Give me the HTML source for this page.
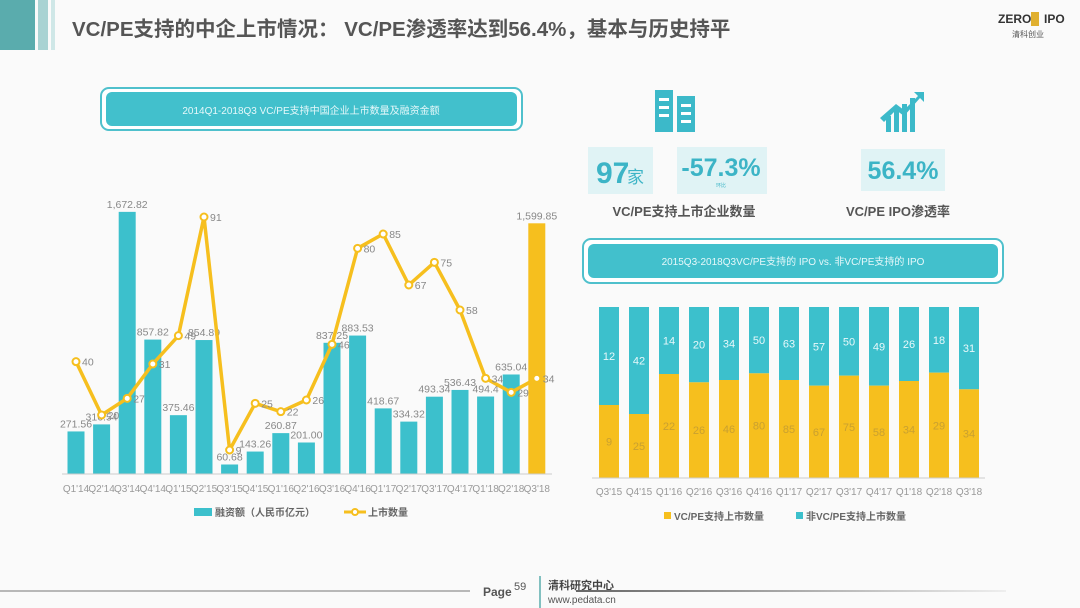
<!DOCTYPE html>
<html><head><meta charset="utf-8"><style>
body{margin:0;width:1080px;height:608px;background:#fafafa;overflow:hidden;font-family:"Liberation Sans","Noto Sans CJK SC",sans-serif;}
svg{position:absolute;left:0;top:0}
</style></head><body>
<svg id="s" width="1080" height="608" xmlns="http://www.w3.org/2000/svg" font-family="Liberation Sans, Noto Sans CJK SC, sans-serif">
<rect x="0" y="0" width="35" height="50" fill="#5aacad"/>
<rect x="38" y="0" width="10" height="50" fill="#a9d3d3"/>
<rect x="51" y="0" width="4" height="50" fill="#cfe7e7"/>
<text x="72" y="36" font-size="20.5" font-weight="bold" fill="#555">VC/PE支持的中企上市情况： VC/PE渗透率达到56.4%，基本与历史持平</text>
<text x="998" y="23" font-size="12" font-weight="bold" fill="#333">ZERO</text>
<rect x="1031" y="12" width="8" height="14" fill="#e0b030"/>
<text x="1044" y="23" font-size="12" font-weight="bold" fill="#333">IPO</text>
<text x="1012" y="37" font-size="8" fill="#555">清科创业</text>
<rect x="101" y="88" width="421" height="42" rx="8" fill="#fff" stroke="#4fc0cc" stroke-width="2"/>
<rect x="106" y="92" width="411" height="34" rx="6" fill="#42c0cc"/>
<text x="311" y="114" font-size="10" fill="#e6f8fa" text-anchor="middle">2014Q1-2018Q3 VC/PE支持中国企业上市数量及融资金额</text>
<g fill="#3cb9c9">
<rect x="655" y="90" width="18" height="42"/><rect x="677" y="96" width="18" height="36"/>
</g>
<g fill="#fff"><rect x="659" y="98" width="10" height="3"/><rect x="659" y="106" width="10" height="3"/><rect x="659" y="114" width="10" height="3"/><rect x="681" y="104" width="10" height="3"/><rect x="681" y="112" width="10" height="3"/><rect x="681" y="120" width="10" height="3"/></g>
<g fill="#3cb9c9"><rect x="886" y="116" width="5" height="16"/><rect x="894" y="110" width="5" height="22"/><rect x="902" y="104" width="5" height="28"/><rect x="910" y="98" width="5" height="34"/>
<polygon points="880,118 896,104 904,110 918,96 914,92 924,92 924,102 920,98 904,116 896,110 884,122"/></g>
<rect x="588" y="147" width="65" height="47" fill="#e0f3f5"/>
<text x="596" y="183" font-size="30" font-weight="bold" fill="#3cb4c6">97</text>
<text x="627" y="183" font-size="17" fill="#3cb4c6">家</text>
<rect x="677" y="147" width="90" height="47" fill="#e0f3f5"/>
<text x="721" y="176" font-size="25" font-weight="bold" fill="#3cb4c6" text-anchor="middle">-57.3%</text>
<text x="721" y="187" font-size="5" fill="#3cb4c6" text-anchor="middle">环比</text>
<rect x="861" y="149" width="84" height="42" fill="#e0f3f5"/>
<text x="903" y="179" font-size="25" font-weight="bold" fill="#3cb4c6" text-anchor="middle">56.4%</text>
<text x="684" y="216" font-size="13" font-weight="bold" fill="#555" text-anchor="middle">VC/PE支持上市企业数量</text>
<text x="898" y="216" font-size="13" font-weight="bold" fill="#555" text-anchor="middle">VC/PE IPO渗透率</text>
<rect x="583" y="239" width="420" height="44" rx="8" fill="#fff" stroke="#4fc0cc" stroke-width="2"/>
<rect x="588" y="244" width="410" height="34" rx="6" fill="#42c0cc"/>
<text x="793" y="265" font-size="10" fill="#e6f8fa" text-anchor="middle">2015Q3-2018Q3VC/PE支持的 IPO vs. 非VC/PE支持的 IPO</text>
<g id="L"></g><g id="R"></g>
<line x1="62" y1="474" x2="552" y2="474" stroke="#ccc"/>
<line x1="592" y1="478" x2="985" y2="478" stroke="#ccc"/>
<rect x="194" y="508" width="18" height="8" fill="#3cc0cc"/>
<text x="215" y="516" font-size="10" font-weight="bold" fill="#666">融资额（人民币亿元）</text>
<line x1="344" y1="512" x2="366" y2="512" stroke="#f6bf1e" stroke-width="3"/><circle cx="355" cy="512" r="3" fill="#fff" stroke="#f6bf1e" stroke-width="2"/>
<text x="368" y="516" font-size="10" font-weight="bold" fill="#666">上市数量</text>
<rect x="664" y="512" width="7" height="7" fill="#f6bf1e"/>
<text x="674" y="520" font-size="10" font-weight="bold" fill="#666">VC/PE支持上市数量</text>
<rect x="796" y="512" width="7" height="7" fill="#3cc0cc"/>
<text x="806" y="520" font-size="10" font-weight="bold" fill="#666">非VC/PE支持上市数量</text>
<line x1="0" y1="591" x2="470" y2="591" stroke="#777"/>
<text x="483" y="596" font-size="12" font-weight="bold" fill="#555">Page</text>
<text x="514" y="590" font-size="11" fill="#555">59</text>
<line x1="540" y1="576" x2="540" y2="608" stroke="#5aacad" stroke-width="1.5"/>
<text x="548" y="589" font-size="11" font-weight="bold" fill="#444">清科研究中心</text>
<text x="548" y="603" font-size="10" fill="#555">www.pedata.cn</text>
<defs><linearGradient id="g" x1="0" x2="1"><stop offset="0" stop-color="#666"/><stop offset="1" stop-color="#eee"/></linearGradient></defs>
<rect x="576" y="590" width="430" height="2" fill="url(#g)"/>
</svg>
<script>
var NS="http://www.w3.org/2000/svg";
function el(p,t,a,txt){var e=document.createElementNS(NS,t);for(var k in a)e.setAttribute(k,a[k]);if(txt!=null)e.textContent=txt;p.appendChild(e);return e;}
var L=document.getElementById("L"),R=document.getElementById("R");
var bv=[271.56,316.54,1672.82,857.82,375.46,854.89,60.68,143.26,260.87,201.00,837.25,883.53,418.67,334.32,493.34,536.43,494.4,635.04,1599.85];
var bl=["271.56","316.54","1,672.82","857.82","375.46","854.89","60.68","143.26","260.87","201.00","837.25","883.53","418.67","334.32","493.34","536.43","494.4","635.04","1,599.85"];
var lz=[545,705,655,552,467,111,810,670,695,660,493,205,162,315,247,390,595,637,595];
var lv=["40","20","27","31","49","91","9","25","22","26","46","80","85","67","75","58","34","29","34"];
var xl=["Q1'14","Q2'14","Q3'14","Q4'14","Q1'15","Q2'15","Q3'15","Q4'15","Q1'16","Q2'16","Q3'16","Q4'16","Q1'17","Q2'17","Q3'17","Q4'17","Q1'18","Q2'18","Q3'18"];
var pts=[];
for(var i=0;i<19;i++){var cx=76+i*25.6,h=bv[i]*0.1567;
el(L,"rect",{x:cx-8.5,y:474-h,width:17,height:h,fill:i==18?"#f6bf1e":"#3cc0cc"});
el(L,"text",{x:cx,y:474-h-4,"font-size":10.5,fill:"#888","text-anchor":"middle"},bl[i]);
el(L,"text",{x:cx,y:492,"font-size":10,fill:"#999","text-anchor":"middle"},xl[i]);
pts.push(cx+","+(180+lz[i]/3));}
el(L,"polyline",{points:pts.join(" "),fill:"none",stroke:"#f6bf1e","stroke-width":3.5,"stroke-linejoin":"round"});
for(var i=0;i<19;i++){var cx=76+i*25.6,y=180+lz[i]/3;
el(L,"circle",{cx:cx,cy:y,r:3.5,fill:"#fff",stroke:"#f6bf1e","stroke-width":2});
el(L,"text",{x:cx+6,y:y+4,"font-size":10.5,fill:"#888"},lv[i]);}
var sz=[330,357,237,262,255,235,255,272,242,272,258,233,283];
var a=["9","25","22","26","46","80","85","67","75","58","34","29","34"];
var b=["12","42","14","20","34","50","63","57","50","49","26","18","31"];
var rx=["Q3'15","Q4'15","Q1'16","Q2'16","Q3'16","Q4'16","Q1'17","Q2'17","Q3'17","Q4'17","Q1'18","Q2'18","Q3'18"];
for(var i=0;i<13;i++){var x=599+i*30,sy=295+sz[i]/3;
el(R,"rect",{x:x,y:307,width:20,height:sy-307,fill:"#3cc0cc"});
el(R,"rect",{x:x,y:sy,width:20,height:478-sy,fill:"#f6bf1e"});
el(R,"text",{x:x+10,y:(307+sy)/2+4,"font-size":11,fill:"#e8f8fa","text-anchor":"middle"},b[i]);
el(R,"text",{x:x+10,y:(sy+478)/2+4,"font-size":11,fill:"#c9a030","text-anchor":"middle"},a[i]);
el(R,"text",{x:x+10,y:495,"font-size":10,fill:"#999","text-anchor":"middle"},rx[i]);}
</script>
</body></html>
